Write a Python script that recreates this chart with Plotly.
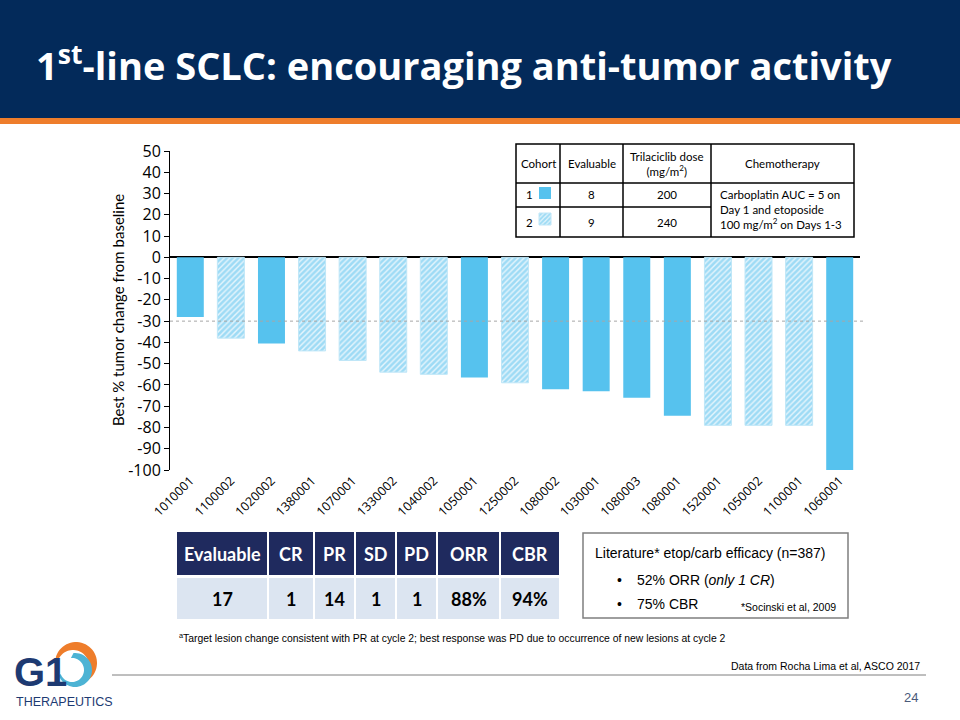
import math
import plotly.graph_objects as go

# ---------------- data ----------------
patients = ["1010001", "1100002", "1020002", "1380001", "1070001", "1330002",
            "1040002", "1050001", "1250002", "1080002", "1030001", "1080003",
            "1080001", "1520001", "1050002", "1100001", "1060001"]
best_change = [-28, -38, -40.5, -44, -48.5, -54, -55, -56.5, -59, -62, -63,
               -66, -74.5, -79, -79, -79, -100]
cohort = [1, 2, 1, 2, 2, 2, 2, 1, 2, 1, 1, 1, 1, 2, 2, 2, 1]
y_tick_vals = list(range(-100, 51, 10))
pr_threshold = -30
note_a_patient = "1020002"
cr_patient = "1060001"

cohort_header = ["Cohort", "Evaluable", "Trilaciclib dose<br>(mg/m<sup>2</sup>)", "Chemotherapy"]
cohort_ids = ["1", "2"]
cohort_evaluable = ["8", "9"]
cohort_dose = ["200", "240"]
chemo_text = "Carboplatin AUC = 5 on<br>Day 1 and etoposide<br>100 mg/m<sup>2</sup> on Days 1-3"

resp_header = ["Evaluable", "CR", "PR", "SD", "PD", "ORR", "CBR"]
resp_values = ["17", "1", "14", "1", "1", "88%", "94%"]

lit_title = "Literature* etop/carb efficacy (n=387)"
lit_bullets = ["52% ORR (<i>only 1 CR</i>)", "75% CBR"]
lit_ref = "*Socinski et al, 2009"
footnote = "<sup>a</sup>Target lesion change consistent with PR at cycle 2; best response was PD due to occurrence of new lesions at cycle 2"
source = "Data from Rocha Lima et al, ASCO 2017"
page_no = "24"

# ---------------- style ----------------
W, H = 960, 720
NAVY = "#032A5A"
ORANGE = "#EE7D2B"
BLUE = "#56C2EE"
LIGHT = "#E6F5FC"
TBL_NAVY = "#1F2A5E"
TBL_LIGHT = "#DCE5F1"
CAL = "Lato"
ARIAL = "Liberation Sans"
NARROW = "Liberation Sans Narrow, Liberation Sans, Arial, sans-serif"


def X(px):
    return px / W


def Y(py):
    return 1 - py / H


fig = go.Figure()

for c in (1, 2):
    yv = [v if co == c else None for v, co in zip(best_change, cohort)]
    if c == 1:
        marker = dict(color=BLUE, line=dict(width=0))
    else:
        marker = dict(color=LIGHT, line=dict(color="#BFE6F7", width=1),
                      pattern=dict(shape="/", fgcolor=BLUE, size=4, solidity=0.65,
                                   fillmode="overlay"))
    fig.add_trace(go.Bar(x=patients, y=yv, marker=marker, name="",
                         legend="legend" if c == 1 else "legend2",
                         showlegend=True, hoverinfo="x+y"))

shapes = []
annotations = []


def rect(x0, y0, x1, y1, fill=None, line_color=None, lw=0, layer="above"):
    d = dict(type="rect", xref="paper", yref="paper", x0=X(x0), x1=X(x1),
             y0=Y(y1), y1=Y(y0), layer=layer)
    d["fillcolor"] = fill if fill else "rgba(0,0,0,0)"
    d["line"] = dict(color=line_color if line_color else "rgba(0,0,0,0)", width=lw)
    shapes.append(d)


def hline(x0, x1, y, color="black", w=1.5, dash="solid"):
    shapes.append(dict(type="line", xref="paper", yref="paper", x0=X(x0), x1=X(x1),
                       y0=Y(y), y1=Y(y), line=dict(color=color, width=w, dash=dash)))


def vline(x, y0, y1, color="black", w=1.5):
    shapes.append(dict(type="line", xref="paper", yref="paper", x0=X(x), x1=X(x),
                       y0=Y(y0), y1=Y(y1), line=dict(color=color, width=w)))


def text(t, x, y, size, color="black", family=CAL, xanchor="center", yanchor="middle",
         bold=False, align="center", angle=0):
    if bold:
        t = "<b>" + t + "</b>"
    annotations.append(dict(text=t, x=X(x), y=Y(y), xref="paper", yref="paper",
                            xanchor=xanchor, yanchor=yanchor, showarrow=False,
                            align=align, textangle=angle,
                            font=dict(size=size, color=color, family=family)))


# header band
rect(0, 0, W, 118, fill=NAVY, layer="below")
rect(0, 118, W, 124, fill=ORANGE, layer="below")
text("1<sup>st</sup>-line SCLC: encouraging anti-tumor activity", 34, 63, 38,
     color="white", family="Open Sans", xanchor="left", bold=True)

# threshold dashed line (in data units on y)
shapes.append(dict(type="line", xref="paper", yref="y", x0=X(170), x1=X(863),
                   y0=pr_threshold, y1=pr_threshold,
                   line=dict(color="#A6A6A6", width=1, dash="3px,3px")))

# y-axis title
text("Best % tumor change from baseline", 118, 310, 15, family=CAL, angle=-90)

# cohort table
tl, tr, tt, tb = 516, 854, 144, 237
cols = [516, 560, 623, 711, 854]
rows = [144, 183, 207, 237]
rect(tl, tt, tr, tb, line_color="black", lw=1.5)
hline(tl, tr, rows[1])
hline(tl, cols[3], rows[2])
for cx in cols[1:4]:
    vline(cx, tt, tb)
for i, h in enumerate(cohort_header):
    text(h, (cols[i] + cols[i + 1]) / 2, 164, 11.5)
for r, (cid, ev, dose) in enumerate(zip(cohort_ids, cohort_evaluable, cohort_dose)):
    yc = (rows[r + 1] + rows[r + 2]) / 2
    text(cid, 524, yc, 11.5, xanchor="left")
    text(ev, (cols[1] + cols[2]) / 2, yc, 11.5)
    text(dose, (cols[2] + cols[3]) / 2, yc, 11.5)
text(chemo_text, 718, 209, 11.5, xanchor="left", align="left")

# response table
rc = [177, 269, 315, 356, 397, 438, 501, 561]
for i, (h, v) in enumerate(zip(resp_header, resp_values)):
    rect(rc[i], 532, rc[i + 1] - 2, 575, fill=TBL_NAVY)
    rect(rc[i], 578, rc[i + 1] - 2, 619, fill=TBL_LIGHT)
    cx = (rc[i] + rc[i + 1] - 2) / 2
    text(h, cx, 553.5, 18, color="white", bold=True)
    text(v, cx, 598.5, 18, color="black", bold=True)

# literature box
rect(583, 533, 848, 618, line_color="#7F7F7F", lw=1.5)
text(lit_title, 593, 553, 14, family=ARIAL, xanchor="left")
for k, b in enumerate(lit_bullets):
    yy = 580 + k * 24
    text("•", 615, yy, 14, family=ARIAL, xanchor="left")
    text(b, 635, yy, 14, family=ARIAL, xanchor="left")
text(lit_ref, 739, 607, 10.5, family=ARIAL, xanchor="left")

# footnote, source, page
text(footnote, 177, 637, 10.4, family=NARROW, xanchor="left")
text(source, 922, 666, 10.5, family=NARROW, xanchor="right")
hline(112, 926, 675, color="#7F7F7F", w=1)
text(page_no, 920, 697, 13, color="#4A5A7A", family=NARROW, xanchor="right")


# logo
def crescent(cx, cy, r_out, r_in, dx_in, dy_in, a0, a1, color):
    pts = []
    n = 40
    for k in range(n + 1):
        a = math.radians(a0 + (a1 - a0) * k / n)
        pts.append((cx + r_out * math.cos(a), cy - r_out * math.sin(a)))
    for k in range(n + 1):
        a = math.radians(a1 + (a0 - a1) * k / n)
        pts.append((cx + dx_in + r_in * math.cos(a), cy + dy_in - r_in * math.sin(a)))
    path = "M " + " L ".join(f"{X(p[0]):.5f},{Y(p[1]):.5f}" for p in pts) + " Z"
    shapes.append(dict(type="path", xref="paper", yref="paper", path=path,
                       fillcolor=color, line=dict(width=0)))


crescent(76, 663, 21, 16, -3, 3, 165, -75, ORANGE)
crescent(75, 670, 17, 12, -3, 0, 95, -160, "#4DB3D4")
text("G1", 12, 672, 40, color="#1D3A72", family="Liberation Sans", xanchor="left", bold=True)
text("THERAPEUTICS", 14, 702, 12.5, color="#1D3A72", family=NARROW, xanchor="left")

# annotations on bars
annotations.append(dict(text="a", x=note_a_patient, y=-45, xref="x", yref="y", showarrow=False,
                        font=dict(size=14, family="Open Sans", color="black")))
annotations.append(dict(text="CR", x=cr_patient, y=-94, xref="x", yref="y", showarrow=False,
                        font=dict(size=16, family="Open Sans", color="black")))

fig.update_layout(
    width=W, height=H, margin=dict(l=0, r=0, t=0, b=0, autoexpand=False),
    paper_bgcolor="white", plot_bgcolor="rgba(0,0,0,0)",
    barmode="overlay", bargap=0.335,
    shapes=shapes, annotations=annotations,
    xaxis=dict(domain=[X(170), X(860)], type="category", categoryorder="array",
               categoryarray=patients, range=[-0.5, len(patients) - 0.5],
               tickangle=-45, tickfont=dict(size=12.5, family="Open Sans", color="black"),
               showline=False, showgrid=False, ticks="", zeroline=False, automargin=False),
    yaxis=dict(domain=[Y(470), Y(151)], range=[-100, 50], tickvals=y_tick_vals,
               ticktext=[str(v) for v in y_tick_vals],
               tickfont=dict(size=16, family="Open Sans", color="black"),
               showline=True, linecolor="black", linewidth=1, ticks="outside",
               ticklen=5, tickcolor="black", showgrid=False, automargin=False,
               zeroline=True, zerolinecolor="black", zerolinewidth=1.5),
    legend=dict(x=X(525), y=Y(193), xanchor="left", yanchor="middle",
                bgcolor="rgba(0,0,0,0)", font=dict(size=10, color="rgba(0,0,0,0)"),
                borderwidth=0),
    legend2=dict(x=X(525), y=Y(219), xanchor="left", yanchor="middle",
                 bgcolor="rgba(0,0,0,0)", font=dict(size=10, color="rgba(0,0,0,0)"),
                 borderwidth=0),
    showlegend=True,
)

fig.write_html("out.html", config={"displayModeBar": False},
               post_script="document.body.style.margin='0px';document.body.style.overflow='hidden';")
